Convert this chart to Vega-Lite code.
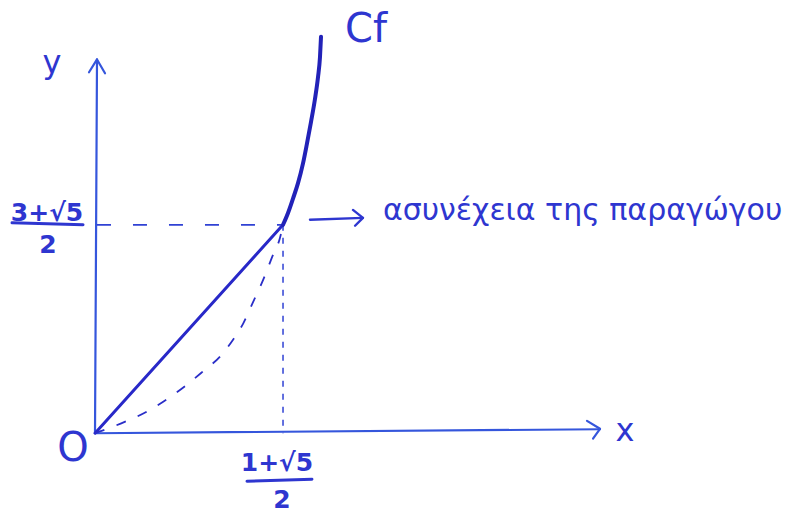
{
  "$schema": "https://vega.github.io/schema/vega-lite/v6.json",
  "autosize": {"type": "fit", "contains": "padding"},
  "width": 802,
  "height": 514,
  "padding": 0,
  "background": "white",
  "config": {"view": {"stroke": null}},
  "datasets": {
    "axes": [
      {"seg": "xaxis", "i": 0, "x": 0, "y": 0},
      {"seg": "xaxis", "i": 1, "x": 4.346, "y": 0.05},
      {"seg": "xhead", "i": 0, "x": 4.234, "y": 0.156},
      {"seg": "xhead", "i": 1, "x": 4.346, "y": 0.056},
      {"seg": "xhead", "i": 2, "x": 4.286, "y": -0.068},
      {"seg": "yaxis", "i": 0, "x": 0, "y": 0},
      {"seg": "yaxis", "i": 1, "x": 0.0172, "y": 4.695},
      {"seg": "yhead", "i": 0, "x": -0.0516, "y": 4.534},
      {"seg": "yhead", "i": 1, "x": 0.0172, "y": 4.695},
      {"seg": "yhead", "i": 2, "x": 0.0861, "y": 4.521}
    ],
    "hguide": [
      {"i": 0, "x": 0.017, "y": 2.618},
      {"i": 1, "x": 1.618, "y": 2.618}
    ],
    "vguide": [
      {"i": 0, "x": 1.618, "y": 2.618},
      {"i": 1, "x": 1.618, "y": 0}
    ],
    "chord": [
      {"i": 0, "x": 0, "y": 0},
      {"i": 1, "x": 1.618, "y": 2.618}
    ],
    "lower": [
      {"i": 0, "x": 0, "y": 0},
      {"i": 1, "x": 0.215, "y": 0.118},
      {"i": 2, "x": 0.456, "y": 0.28},
      {"i": 3, "x": 0.62, "y": 0.429},
      {"i": 4, "x": 0.775, "y": 0.591},
      {"i": 5, "x": 0.929, "y": 0.777},
      {"i": 6, "x": 1.076, "y": 0.964},
      {"i": 7, "x": 1.188, "y": 1.175},
      {"i": 8, "x": 1.274, "y": 1.374},
      {"i": 9, "x": 1.36, "y": 1.648},
      {"i": 10, "x": 1.446, "y": 1.922},
      {"i": 11, "x": 1.523, "y": 2.208},
      {"i": 12, "x": 1.592, "y": 2.456},
      {"i": 13, "x": 1.618, "y": 2.618}
    ],
    "upper": [
      {"i": 0, "x": 1.618, "y": 2.618},
      {"i": 1, "x": 1.661, "y": 2.767},
      {"i": 2, "x": 1.704, "y": 2.948},
      {"i": 3, "x": 1.747, "y": 3.141},
      {"i": 4, "x": 1.79, "y": 3.389},
      {"i": 5, "x": 1.824, "y": 3.638},
      {"i": 6, "x": 1.859, "y": 3.912},
      {"i": 7, "x": 1.893, "y": 4.198},
      {"i": 8, "x": 1.919, "y": 4.471},
      {"i": 9, "x": 1.936, "y": 4.72},
      {"i": 10, "x": 1.945, "y": 4.981}
    ],
    "pointer": [
      {"seg": "shaft", "i": 0, "x": 1.85, "y": 2.681},
      {"seg": "shaft", "i": 1, "x": 2.306, "y": 2.705},
      {"seg": "head", "i": 0, "x": 2.22, "y": 2.805},
      {"seg": "head", "i": 1, "x": 2.306, "y": 2.705},
      {"seg": "head", "i": 2, "x": 2.238, "y": 2.606}
    ],
    "bars": [
      {"seg": "left", "i": 0, "x": -0.714, "y": 2.643},
      {"seg": "left", "i": 1, "x": -0.103, "y": 2.618},
      {"seg": "bottom", "i": 0, "x": 1.308, "y": -0.603},
      {"seg": "bottom", "i": 1, "x": 1.867, "y": -0.578}
    ],
    "fractions": [
      {"label": "3+√5", "x": -0.413, "y": 2.77},
      {"label": "2", "x": -0.404, "y": 2.369},
      {"label": "1+√5", "x": 1.566, "y": -0.37},
      {"label": "2", "x": 1.609, "y": -0.84}
    ],
    "letters": [
      {"label": "y", "x": -0.37, "y": 4.65},
      {"label": "x", "x": 4.561, "y": 0.03}
    ],
    "big": [
      {"label": "Cf", "x": 2.332, "y": 5.068},
      {"label": "O", "x": -0.189, "y": -0.2}
    ],
    "note": [
      {"label": "ασυνέχεια της παραγώγου", "x": 2.478, "y": 2.79}
    ]
  },
  "encoding": {
    "x": {"field": "x", "type": "quantitative", "axis": null,
          "scale": {"domain": [-0.8176, 6.0843], "nice": false, "zero": false}},
    "y": {"field": "y", "type": "quantitative", "axis": null,
          "scale": {"domain": [-0.9515, 5.4415], "nice": false, "zero": false}}
  },
  "layer": [
    {
      "data": {"name": "axes"},
      "mark": {"type": "line", "color": "#3556dc", "strokeWidth": 2.2, "strokeCap": "round", "strokeJoin": "round"},
      "encoding": {"detail": {"field": "seg"}, "order": {"field": "i"}}
    },
    {
      "data": {"name": "hguide"},
      "mark": {"type": "line", "color": "#3042d4", "strokeWidth": 1.8, "strokeDash": [14, 22]},
      "encoding": {"order": {"field": "i"}}
    },
    {
      "data": {"name": "vguide"},
      "mark": {"type": "line", "color": "#3042d4", "strokeWidth": 1.5, "strokeDash": [6, 7]},
      "encoding": {"order": {"field": "i"}}
    },
    {
      "data": {"name": "chord"},
      "mark": {"type": "line", "color": "#2828c8", "strokeWidth": 3, "strokeCap": "round"},
      "encoding": {"order": {"field": "i"}}
    },
    {
      "data": {"name": "lower"},
      "mark": {"type": "line", "color": "#2a2ec8", "strokeWidth": 1.8, "strokeDash": [10, 13], "interpolate": "monotone"},
      "encoding": {"order": {"field": "i"}}
    },
    {
      "data": {"name": "upper"},
      "mark": {"type": "line", "color": "#2222b8", "strokeWidth": 4, "strokeCap": "round", "interpolate": "monotone"},
      "encoding": {"order": {"field": "i"}}
    },
    {
      "data": {"name": "pointer"},
      "mark": {"type": "line", "color": "#2e36d0", "strokeWidth": 2.4, "strokeCap": "round", "strokeJoin": "round"},
      "encoding": {"detail": {"field": "seg"}, "order": {"field": "i"}}
    },
    {
      "data": {"name": "bars"},
      "mark": {"type": "line", "color": "#2e36d0", "strokeWidth": 3, "strokeCap": "round"},
      "encoding": {"detail": {"field": "seg"}, "order": {"field": "i"}}
    },
    {
      "data": {"name": "fractions"},
      "mark": {"type": "text", "color": "#2e36d0", "font": "DejaVu Sans", "fontSize": 25, "fontWeight": "bold", "align": "center", "baseline": "middle"},
      "encoding": {"text": {"field": "label"}}
    },
    {
      "data": {"name": "letters"},
      "mark": {"type": "text", "color": "#2e36d0", "font": "DejaVu Sans", "fontSize": 32, "align": "center", "baseline": "middle"},
      "encoding": {"text": {"field": "label"}}
    },
    {
      "data": {"name": "big"},
      "mark": {"type": "text", "color": "#2e36d0", "font": "DejaVu Sans", "fontSize": 40, "align": "center", "baseline": "middle"},
      "encoding": {"text": {"field": "label"}}
    },
    {
      "data": {"name": "note"},
      "mark": {"type": "text", "color": "#2e36d0", "font": "DejaVu Sans", "fontSize": 30, "align": "left", "baseline": "middle"},
      "encoding": {"text": {"field": "label"}}
    }
  ]
}
